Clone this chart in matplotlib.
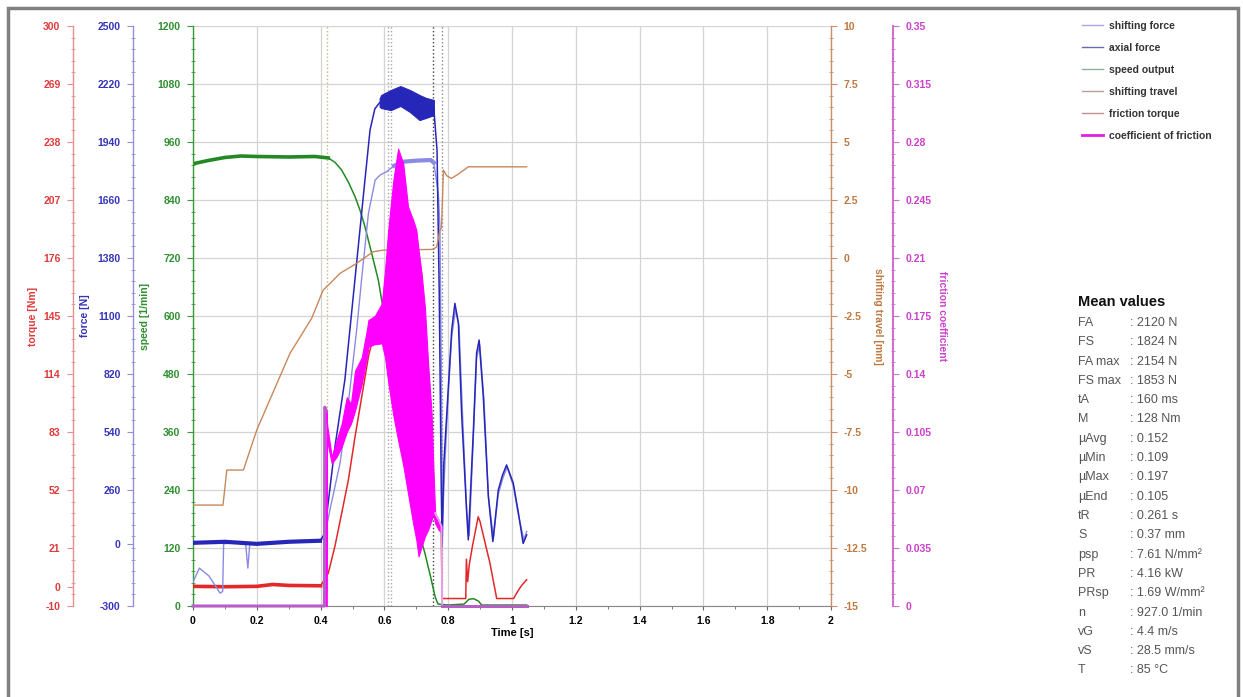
import numpy as np
import matplotlib
matplotlib.use("Agg")
import matplotlib.pyplot as plt
from matplotlib.ticker import FixedLocator
from matplotlib.lines import Line2D
from matplotlib.patches import Rectangle

plt.rcParams['font.family'] = ['Liberation Sans', 'DejaVu Sans']
plt.rcParams['axes.unicode_minus'] = False

# ---- data ----
speed_t = [0, 0.05, 0.1, 0.15, 0.2, 0.3, 0.382, 0.424, 0.445, 0.466, 0.487, 0.508, 0.524,
           0.539, 0.56, 0.581, 0.60, 0.63, 0.66, 0.69, 0.71, 0.727, 0.745, 0.759, 0.768,
           0.80, 0.85, 0.865, 0.88, 0.895, 0.905, 1.046]
speed = [915, 922, 928, 931, 930, 929, 930, 927, 918, 902, 877, 847, 818,
         785, 730, 674, 600, 470, 340, 220, 150, 109, 60, 19, 4,
         2, 4, 14, 15, 10, 2, 2]

axial_t = [0, 0.1, 0.2, 0.3, 0.398, 0.409, 0.42, 0.445, 0.476, 0.497, 0.518, 0.539, 0.555,
           0.57, 0.585, 0.62, 0.65, 0.68, 0.71, 0.73, 0.755, 0.765, 0.772, 0.778, 0.781,
           0.786, 0.80, 0.811, 0.821, 0.832, 0.842, 0.858, 0.863, 0.879, 0.889, 0.897,
           0.91, 0.926, 0.94, 0.957, 0.970, 0.983, 1.004, 1.02, 1.035, 1.046]
axial = [5, 10, 0, 10, 15, 40, 150, 469, 791, 1113, 1434, 1756, 1998,
         2100, 2130, 2140, 2160, 2140, 2105, 2070, 2100, 1900, 1200, 300, -14,
         380, 743, 1033, 1161, 1066, 631, 149, 19, 549, 921, 984,
         711, 227, 11, 260, 330, 381, 293, 150, 2, 43]
axial_band_t = [0.585, 0.59, 0.62, 0.65, 0.68, 0.71, 0.73, 0.755]
axial_hi = [2150, 2167, 2191, 2210, 2191, 2167, 2153, 2143]
axial_lo = [2110, 2104, 2094, 2114, 2085, 2046, 2056, 2070]

shift_t = [0, 0.02, 0.05, 0.085, 0.093, 0.096, 0.12, 0.165, 0.172, 0.178, 0.2, 0.3, 0.4,
           0.412, 0.43, 0.461, 0.49, 0.513, 0.53, 0.55, 0.571, 0.586, 0.607, 0.63, 0.66,
           0.70, 0.745, 0.755, 0.769, 0.774, 0.778, 0.782, 0.79, 0.80, 0.811, 0.823,
           0.834, 0.845, 0.858, 0.866, 0.879, 0.889, 0.899, 0.912, 0.926, 0.942, 0.957,
           0.972, 0.985, 1.004, 1.02, 1.037, 1.046]
shift = [-185, -117, -155, -238, -230, 0, 5, 0, -117, 0, 5, 10, 15,
         30, 170, 390, 720, 1032, 1300, 1596, 1756, 1780, 1797, 1825, 1845,
         1850, 1853, 1840, 1692, 1532, 900, 100, 400, 720, 1000, 1130,
         1050, 620, 160, 40, 520, 900, 960, 700, 230, 30, 240,
         320, 370, 280, 140, 20, 60]

travel_t = [0, 0.094, 0.106, 0.158, 0.2, 0.304, 0.372, 0.408, 0.43, 0.461, 0.513, 0.565,
            0.597, 0.753, 0.764, 0.774, 0.779, 0.785, 0.795, 0.81, 0.83, 0.863, 1.046]
travel = [-10.65, -10.65, -9.14, -9.14, -7.41, -4.11, -2.6, -1.38, -1.09, -0.66, -0.23, 0.27,
          0.34, 0.37, 0.49, 1.2, 1.3, 3.79, 3.55, 3.43, 3.6, 3.93, 3.93]

torque_t = [0, 0.1, 0.2, 0.25, 0.3, 0.4, 0.424, 0.445, 0.466, 0.487, 0.508, 0.529, 0.55,
            0.56, 0.59, 0.62, 0.66, 0.70, 0.74, 0.76, 0.778, 0.781, 0.855, 0.857, 0.861,
            0.866, 0.876, 0.894, 0.90, 0.931, 0.952, 1.005, 1.015, 1.03, 1.046]
torque = [0.5, 0.3, 0.5, 1.5, 1.0, 0.8, 7.5, 22, 39.5, 57.3, 80.5, 101.9, 123.3,
          130.4, 138, 140, 132, 105, 60, 36, 33, -6, -6, 15, 3,
          12, 22, 37.7, 35, 12.8, -6, -6, -3, 1, 4]

mu_t = [0.0, 0.412, 0.413, 0.418, 0.42, 0.435, 0.45, 0.466, 0.482, 0.495, 0.508, 0.529,
        0.545, 0.55, 0.57, 0.592, 0.602, 0.612, 0.628, 0.643, 0.659, 0.674, 0.69, 0.70,
        0.707, 0.717, 0.727, 0.737, 0.748, 0.753, 0.759, 0.77, 0.779, 0.781, 1.046]
mu_hi = [0.0, 0.0, 0.120, 0.118, 0.110, 0.090, 0.100, 0.110, 0.126, 0.122, 0.142, 0.150,
         0.1666, 0.1726, 0.175, 0.1826, 0.2027, 0.2269, 0.257, 0.276, 0.267, 0.241, 0.233, 0.2269,
         0.215, 0.200, 0.180, 0.1465, 0.116, 0.086, 0.056, 0.052, 0.048, 0.0, 0.0]
mu_lo = [0.0, 0.0, 0.0, 0.0, 0.100, 0.086, 0.090, 0.096, 0.105, 0.110, 0.118, 0.134,
         0.150, 0.1565, 0.158, 0.1585, 0.150, 0.135, 0.115, 0.100, 0.085, 0.068, 0.050, 0.040,
         0.030, 0.036, 0.042, 0.046, 0.052, 0.056, 0.050, 0.046, 0.044, 0.0, 0.0]

event_t = [0.419, 0.612, 0.620, 0.753, 0.779]
event_colors = ["#c8b878", "#a8a8a8", "#a8a8a8", "#404040", "#8a8a8a"]

time_ticks = [0, 0.2, 0.4, 0.6, 0.8, 1.0, 1.2, 1.4, 1.6, 1.8, 2.0]
time_labels = ["0", "0.2", "0.4", "0.6", "0.8", "1", "1.2", "1.4", "1.6", "1.8", "2"]
speed_ticks = [0, 120, 240, 360, 480, 600, 720, 840, 960, 1080, 1200]
force_ticks = [-300, 0, 260, 540, 820, 1100, 1380, 1660, 1940, 2220, 2500]
torque_ticks = [-10, 0, 21, 52, 83, 114, 145, 176, 207, 238, 269, 300]
travel_ticks = [-15, -12.5, -10, -7.5, -5, -2.5, 0, 2.5, 5, 7.5, 10]
travel_labels = ["-15", "-12.5", "-10", "-7.5", "-5", "-2.5", "0", "2.5", "5", "7.5", "10"]
mu_ticks = [0, 0.035, 0.07, 0.105, 0.14, 0.175, 0.21, 0.245, 0.28, 0.315, 0.35]
mu_labels = ["0", "0.035", "0.07", "0.105", "0.14", "0.175", "0.21", "0.245", "0.28", "0.315", "0.35"]

legend_labels = ["shifting force", "axial force", "speed output", "shifting travel",
                 "friction torque", "coefficient of friction"]
legend_colors = ["#a8a8e8", "#6a6ab0", "#8fb09a", "#b8a098", "#c09090", "#e020e0"]

mean_names = ["FA", "FS", "FA max", "FS max", "tA", "M", "µAvg", "µMin", "µMax", "µEnd",
              "tR", "S", "psp", "PR", "PRsp", "n", "vG", "vS", "T"]
mean_values = [": 2120 N", ": 1824 N", ": 2154 N", ": 1853 N", ": 160 ms", ": 128 Nm",
               ": 0.152", ": 0.109", ": 0.197", ": 0.105", ": 0.261 s", ": 0.37 mm",
               ": 7.61 N/mm²", ": 4.16 kW", ": 1.69 W/mm²", ": 927.0 1/min", ": 4.4 m/s",
               ": 28.5 mm/s", ": 85 °C"]

C_TORQUE = "#e2282a"
C_FORCE = "#2626b8"
C_SHIFT = "#8a8ae4"
C_SPEED = "#238a23"
C_TRAVEL = "#c8885a"
C_MU = "#ff00ff"
C_MU_FLAT = "#b85cc8"
C_MU_AX = "#cc40cc"

W, H = 1243, 697
fig = plt.figure(figsize=(W / 100, H / 100), dpi=100)
ax = fig.add_axes([193 / W, 1 - 606 / H, 638 / W, 580 / H])

TICKFONT = dict(fontsize=7.5, fontweight="bold")


def style_axis(a, side, spine_px, color, spine_color, ticks, labels, lim, minor_step,
               label, label_x):
    # spine position first: moving a spine resets the ticks
    if spine_px is not None:
        a.spines[side].set_position(("axes", (spine_px - 193) / 638))
    a.set_ylim(*lim)
    a.yaxis.set_ticks_position(side)
    a.yaxis.set_label_position(side)
    a.set_yticks(ticks)
    a.set_yticklabels(labels, color=color, **TICKFONT)
    a.yaxis.set_minor_locator(FixedLocator(np.arange(lim[0], lim[1] + 1e-9, minor_step)))
    a.tick_params(axis="y", which="major", direction="out", length=4, width=0.8,
                  color=spine_color, pad=5)
    a.tick_params(axis="y", which="minor", direction="inout", length=3, width=0.6,
                  color=spine_color)
    for s in a.spines.values():
        s.set_visible(False)
    a.spines[side].set_visible(True)
    a.spines[side].set_color(spine_color)
    a.spines[side].set_linewidth(1.0)
    rot = 90 if side == "left" else 270
    a.set_ylabel(label, color=color, fontsize=7.5, fontweight="bold", rotation=rot,
                 va="center", ha="center")
    a.yaxis.set_label_coords(label_x, 0.5)


# main axis: speed
ax.set_xlim(0, 2)
ax.set_xticks(time_ticks)
ax.set_xticklabels(time_labels, **TICKFONT)
ax.xaxis.set_minor_locator(FixedLocator(np.arange(0, 2.001, 0.1)))
ax.tick_params(axis="x", which="major", direction="out", length=3, color="#666666", pad=4)
ax.tick_params(axis="x", which="minor", direction="out", length=2, color="#666666")
ax.set_xlabel("Time [s]", fontsize=8, fontweight="bold", labelpad=2)
style_axis(ax, "left", None, "#2f8f2f", "#3a9a3a", speed_ticks, [str(v) for v in speed_ticks],
           (0, 1200), 24, "speed [1/min]", -0.075)
ax.spines["bottom"].set_visible(True)
ax.spines["bottom"].set_color("#888888")
ax.grid(True, which="major", color="#d4d4d4", lw=0.9)
ax.set_axisbelow(True)

for t, c in zip(event_t, event_colors):
    ax.axvline(t, color=c, ls=":", lw=1.0, zorder=1.5)

ax_tq = ax.twinx()
style_axis(ax_tq, "left", 73, "#e03a3a", "#e89090", torque_ticks, [str(v) for v in torque_ticks],
           (-10, 300), 6.2, "torque [Nm]", -0.251)

ax_f = ax.twinx()
style_axis(ax_f, "left", 133, "#3535b8", "#9090d8", force_ticks, [str(v) for v in force_ticks],
           (-300, 2500), 56, "force [N]", -0.169)

ax_tr = ax.twinx()
style_axis(ax_tr, "right", None, "#c07840", "#c8906a", travel_ticks, travel_labels,
           (-15, 10), 0.5, "shifting travel [mm]", 1.074)

ax_mu = ax.twinx()
style_axis(ax_mu, "right", 893, C_MU_AX, "#d070d0", mu_ticks, mu_labels,
           (0, 0.35), 0.007, "friction coefficient", 1.174)
ax_mu.spines["right"].set_linewidth(1.5)

for a in (ax_tq, ax_f, ax_tr, ax_mu):
    a.set_xlim(0, 2)

# speed output
st = np.array(speed_t)
ax.plot(speed_t, speed, color=C_SPEED, lw=1.1)
ax.plot(st[st <= 0.43], np.array(speed)[st <= 0.43], color=C_SPEED, lw=2.6)

# friction torque
tt = np.array(torque_t)
ax_tq.plot(torque_t, torque, color=C_TORQUE, lw=1.1)
ax_tq.plot(tt[tt <= 0.4], np.array(torque)[tt <= 0.4], color=C_TORQUE, lw=2.6)

# shifting travel
ax_tr.plot(travel_t, travel, color=C_TRAVEL, lw=1.0)

# shifting and axial force
sh_t = np.array(shift_t)
ax_f.plot(shift_t, shift, color=C_SHIFT, lw=1.0)
m = (sh_t >= 0.63) & (sh_t <= 0.755)
ax_f.plot(sh_t[m], np.array(shift)[m], color=C_SHIFT, lw=3.0)
ax_f.plot(axial_t, axial, color=C_FORCE, lw=1.1)
at = np.array(axial_t)
ax_f.plot(at[at <= 0.4], np.array(axial)[at <= 0.4], color=C_FORCE, lw=3.0)
ax_f.fill_between(axial_band_t, axial_lo, axial_hi, color=C_FORCE, lw=0.8)

# coefficient of friction: flat/spike parts in violet, noisy band in magenta
mt = np.array(mu_t)
mh = np.array(mu_hi)
ax_mu.plot(mt[mt <= 0.418], mh[mt <= 0.418], color=C_MU_FLAT, lw=2.2, clip_on=False)
band = (mt >= 0.418) & (mt <= 0.779)
ax_mu.fill_between(mt[band], np.array(mu_lo)[band], mh[band], color=C_MU, lw=0.8,
                   edgecolor=C_MU)
ax_mu.plot(mt[mt >= 0.759], mh[mt >= 0.759], color="#e8a0e8", lw=1.4)
ax_mu.plot(mt[mt >= 0.781], mh[mt >= 0.781], color=C_MU_FLAT, lw=2.2, clip_on=False)

# legend
handles = [Line2D([], [], color=c, lw=2.0 if i == 5 else 1.0) for i, c in enumerate(legend_colors)]
leg = fig.legend(handles, legend_labels, loc="upper left",
                 bbox_to_anchor=(1082 / W, 1 - 21 / H), frameon=False,
                 prop=dict(size=7.5, weight="bold"), handlelength=2.0,
                 handletextpad=0.6, labelspacing=1.15, borderaxespad=0, borderpad=0)
for txt in leg.get_texts():
    txt.set_color("#333333")

# mean values table
fig.text(1078 / W, 1 - 302 / H, "Mean values", fontsize=10.5, fontweight="bold",
         color="#111111", va="center")
for i, (name, val) in enumerate(zip(mean_names, mean_values)):
    y = 1 - (323 + i * 19.3) / H
    fig.text(1078 / W, y, name, fontsize=9, color="#555555", va="center")
    fig.text(1130 / W, y, val, fontsize=9, color="#555555", va="center")

# frame
fig.add_artist(Rectangle((8 / W, -0.05), 1230 / W, 1.05 - 8 / H, transform=fig.transFigure,
                         fill=False, edgecolor="#808080", lw=2.5))

fig.savefig("out.png", dpi=100)
